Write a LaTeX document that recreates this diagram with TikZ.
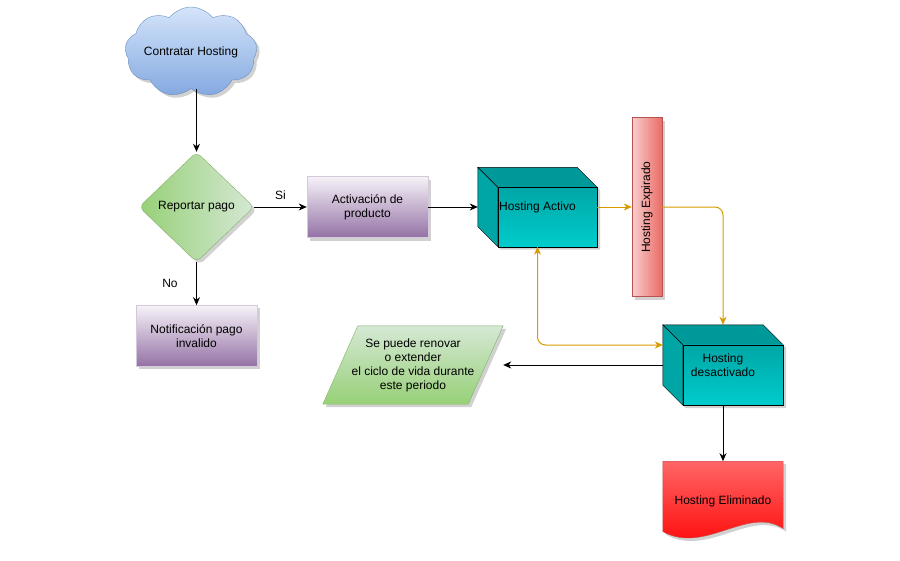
\documentclass[tikz,border=0pt]{standalone}
\usepackage{fontspec}
\setmainfont{Liberation Sans}
\usetikzlibrary{shapes,arrows.meta,calc,positioning,backgrounds,shadows}

\definecolor{azulclaro}{HTML}{D4E4FA}
\definecolor{azul}{HTML}{84A9E0}
\definecolor{azulborde}{HTML}{6C8EBF}
\definecolor{verdeclaro}{HTML}{D5E8D4}
\definecolor{verde}{HTML}{97D077}
\definecolor{verdeborde}{HTML}{82B366}
\definecolor{moradoclaro}{HTML}{F6F2F8}
\definecolor{moradomedio}{HTML}{C4B0CE}
\definecolor{morado}{HTML}{9472A5}
\definecolor{moradoborde}{HTML}{D5C8DC}
\definecolor{rojoclaro}{HTML}{F8CECC}
\definecolor{rojo}{HTML}{EA6B66}
\definecolor{rojoborde}{HTML}{B85450}
\definecolor{cuboarriba}{HTML}{009999}
\definecolor{cubolado}{HTML}{00A6A6}
\definecolor{cubofrente}{HTML}{00CCCC}
\definecolor{naranja}{HTML}{D79B00}

\tikzset{
  sombra/.style={drop shadow={shadow xshift=3pt,shadow yshift=-3pt,fill=black!40,opacity=.45}},
  nube/.style={cloud, cloud puffs=9, cloud puff arc=105, cloud ignores aspect,
    minimum width=132, minimum height=90, inner sep=0, draw=azulborde,
    top color=azulclaro, bottom color=azul, sombra},
  decision/.style={diamond, minimum width=115, minimum height=110, inner sep=0,
    rounded corners=6pt, draw=verdeborde, left color=verde, right color=verdeclaro, sombra},
  proceso/.style={rectangle, minimum width=121, minimum height=61, align=center,
    draw=moradoborde, top color=moradoclaro, middle color=moradomedio, bottom color=morado, sombra},
  expiradobox/.style={rectangle, minimum width=30, minimum height=179, inner sep=0,
    draw=rojoborde, left color=rojoclaro, right color=rojo, sombra},
  cubo/.style={rectangle, minimum width=120, minimum height=80, align=center},
  flecha/.style={line width=1pt, -{Stealth[length=8pt,width=7pt,inset=2.5pt]}},
  flechanaranja/.style={flecha, draw=naranja, rounded corners=8pt}
}

\begin{document}
\begin{tikzpicture}[x=1pt,y=1pt,font=\fontsize{12}{14}\selectfont]
  \useasboundingbox (0,0) rectangle (900,-560);

  \node[nube] (nube) at (191,-52) {\makebox[0pt]{Contratar Hosting}};
  \node[decision] (reportar) at (196.5,-207) {Reportar pago};
  \node[proceso] (activacion) at (367.5,-207) {Activación de\\producto};
  \node[proceso, below = 43pt of reportar] (notificacion) {Notificación pago\\invalido};
  \node[cubo, minimum width=119, minimum height=79] (activo) at (537.5,-207) {Hosting Activo};
  \node[expiradobox] (expirado) at (647,-207) {\rotatebox{90}{Hosting Expirado}};
  \node[cubo] (desactivado) at (723,-365) {Hosting\\desactivado};
  \node[rectangle, minimum width=180, minimum height=78, align=center] (renovar) at (413,-365)
    {Se puede renovar\\o extender\\el ciclo de vida durante\\este periodo};
  \node[rectangle, minimum width=120, minimum height=80, below = 56pt of desactivado] (eliminado) {Hosting Eliminado};

  \begin{scope}[on background layer]
    % cajas 3d
    \foreach \c in {activo,desactivado} {
      \coordinate (a) at (\c.north west);
      \coordinate (b) at ([xshift=-20pt]\c.north east);
      \coordinate (c) at ([yshift=-20pt]\c.north east);
      \coordinate (d) at (\c.south east);
      \coordinate (e) at ([xshift=20pt]\c.south west);
      \coordinate (f) at ([yshift=20pt]\c.south west);
      \coordinate (g) at ([shift={(20pt,-20pt)}]\c.north west);
      \fill[sombra, white] (a) -- (b) -- (c) -- (d) -- (e) -- (f) -- cycle;
      \filldraw[cuboarriba, draw=black] (a) -- (b) -- (c) -- (g) -- cycle;
      \filldraw[cubolado, draw=black] (a) -- (g) -- (e) -- (f) -- cycle;
      \path[draw=black, top color=cubolado, bottom color=cubofrente] (g) -- (c) -- (d) -- (e) -- cycle;
    }
    \path[draw=verdeborde, top color=verdeclaro, bottom color=verde, sombra]
      ([xshift=35pt]renovar.north west) -- (renovar.north east)
      -- ([xshift=-35pt]renovar.south east) -- (renovar.south west) -- cycle;
    \path[draw=rojoborde, top color=red!60!white, bottom color=red, sombra]
      (eliminado.north west) -- (eliminado.north east) -- ([yshift=13pt]eliminado.south east)
      .. controls (748,-505) and (705,-555) .. ([yshift=10pt]eliminado.south west) -- cycle;
  \end{scope}

  \draw[flecha] (reportar.north |- nube.south) -- (reportar.north);
  \draw[flecha] (reportar) -- (activacion) node[midway, above=4pt] {Si};
  \draw[flecha] (reportar) -- (notificacion) node[midway, left=15pt] {No};
  \draw[flecha] (activacion) -- (activo);
  \draw[flechanaranja] (activo) -- (expirado);
  \draw[flechanaranja] (expirado.east) -| (desactivado.north);
  \draw[flechanaranja, {Stealth[length=8pt,width=7pt,inset=2.5pt]}-{Stealth[length=8pt,width=7pt,inset=2.5pt]}]
    (activo.south) |- ([yshift=20pt]desactivado.west);
  \draw[flecha] (desactivado.west) -- (renovar.east);
  \draw[flecha] (desactivado) -- (eliminado);

\end{tikzpicture}
\end{document}
